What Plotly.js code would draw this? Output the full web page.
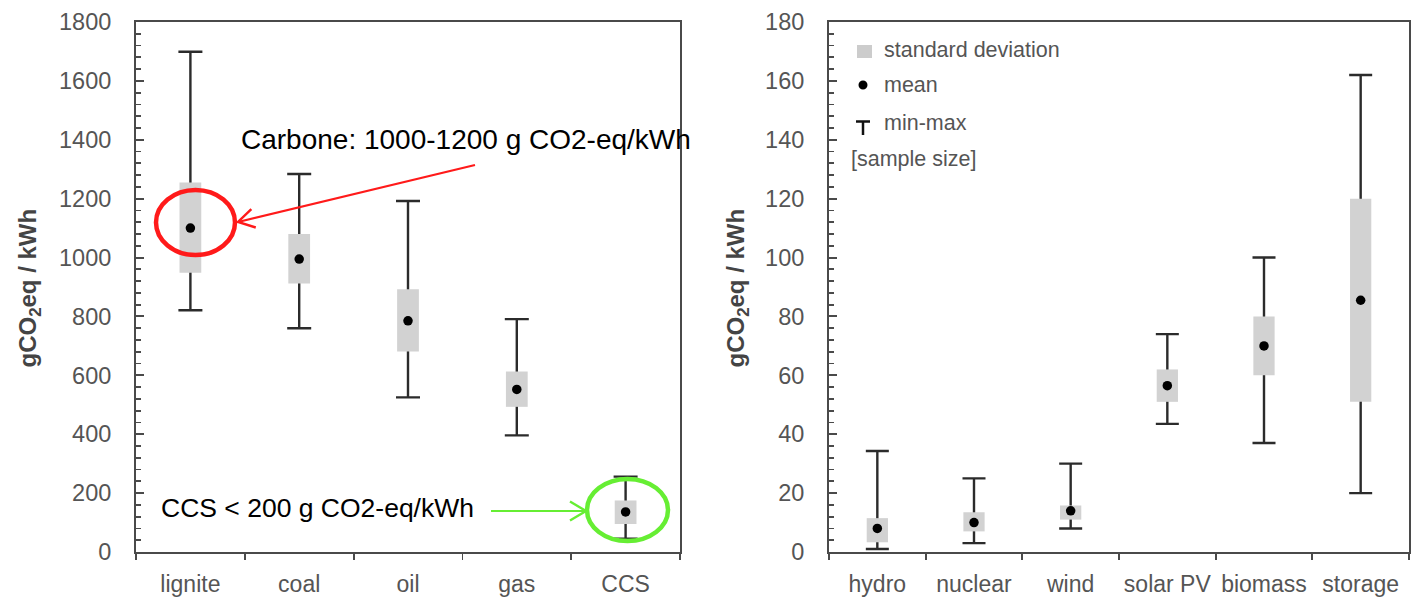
<!DOCTYPE html>
<html>
<head>
<meta charset="utf-8">
<script src="https://cdn.plot.ly/plotly-3.0.1.min.js"></script>
<style>
html,body{margin:0;padding:0;background:#fff;}
#chart{width:1414px;height:600px;}
</style>
</head>
<body>
<div id="chart"></div>
<script>
// ---- Data ----
const fossilCats = ['lignite', 'coal', 'oil', 'gas', 'CCS'];
const fossilMean = [1100, 995, 785, 552, 136];
const fossilSdLow = [948, 912, 681, 493, 95];
const fossilSdHigh = [1255, 1080, 892, 613, 175];
const fossilMin = [821, 760, 525, 396, 45];
const fossilMax = [1699, 1284, 1192, 791, 256];

const lowCats = ['hydro', 'nuclear', 'wind', 'solar PV', 'biomass', 'storage'];
const lowMean = [8, 10, 14, 56.5, 70, 85.5];
const lowSdLow = [3.3, 7, 11, 51, 60, 51];
const lowSdHigh = [11.5, 13.5, 15.8, 62, 80, 120];
const lowMin = [1, 3, 8, 43.5, 37, 20];
const lowMax = [34.3, 25, 30, 74, 100, 162];

// ---- Styling helpers ----
const W = 1414, H = 600;
const px = x => x / W;
const py = y => 1 - y / H;
const FONT = 'Liberation Sans, Arial, sans-serif';
const GREY_TXT = '#555555';
const BOX = '#d2d2d2';
const WHISK = '#2b2b2b';
const RED = '#ff1a1a';
const GREEN = '#66ee33';
const AXC = '#4a4a4a';

function diff(a, b) { return a.map((v, i) => v - b[i]); }

function group(cats, mean, lo, hi, mn, mx, xa, ya, bw, capw) {
  return [
    { // whiskers (min-max) carried by an invisible bar
      type: 'bar', x: cats, y: mean, xaxis: xa, yaxis: ya,
      width: bw, marker: { color: 'rgba(0,0,0,0)' },
      error_y: { type: 'data', symmetric: false,
        array: diff(mx, mean), arrayminus: diff(mean, mn),
        color: WHISK, thickness: 2.4, width: capw },
      hoverinfo: 'skip', showlegend: false
    },
    { // standard deviation box
      type: 'bar', x: cats, y: diff(hi, lo), base: lo, xaxis: xa, yaxis: ya,
      width: bw, marker: { color: BOX, line: { width: 0 } },
      name: 'standard deviation', showlegend: false
    },
    { // mean
      type: 'scatter', mode: 'markers', x: cats, y: mean, xaxis: xa, yaxis: ya,
      marker: { color: '#000', size: 9.5 },
      name: 'mean', showlegend: false
    }
  ];
}

const traces = [].concat(
  group(fossilCats, fossilMean, fossilSdLow, fossilSdHigh, fossilMin, fossilMax, 'x', 'y', 0.2, 12),
  group(lowCats, lowMean, lowSdLow, lowSdHigh, lowMin, lowMax, 'x2', 'y2', 0.22, 11.5)
);

// open chevron arrow drawn as shapes (annotation decoration)
function arrow(tipX, tipY, tailX, tailY, color) {
  const dx = tailX - tipX, dy = tailY - tipY;
  const L = Math.hypot(dx, dy);
  const ux = dx / L, uy = dy / L, nx = -uy, ny = ux;
  const back = 16, half = 9.5;
  const a1 = [tipX + back * ux + half * nx, tipY + back * uy + half * ny];
  const a2 = [tipX + back * ux - half * nx, tipY + back * uy - half * ny];
  const P = (p) => px(p[0]) + ',' + py(p[1]);
  return [
    { type: 'line', xref: 'paper', yref: 'paper', x0: px(tailX), y0: py(tailY), x1: px(tipX), y1: py(tipY),
      line: { color: color, width: 2.2 } },
    { type: 'path', xref: 'paper', yref: 'paper',
      path: 'M' + P(a1) + ' L' + P([tipX, tipY]) + ' L' + P(a2),
      line: { color: color, width: 2.4 } }
  ];
}

const xCommon = {
  type: 'category', showgrid: false, zeroline: false,
  showline: true, linecolor: AXC, linewidth: 2, mirror: true,
  ticks: 'outside', tickson: 'boundaries', ticklen: 6, tickwidth: 1.8, tickcolor: AXC,
  tickfont: { family: FONT, size: 23, color: GREY_TXT }, tickangle: 0,
  ticklabelstandoff: 10, fixedrange: true
};
const yCommon = {
  showgrid: false, zeroline: false,
  showline: true, linecolor: AXC, linewidth: 2, mirror: true,
  tickmode: 'linear', tick0: 0,
  ticks: 'inside', ticklen: 8, tickwidth: 2, tickcolor: AXC,
  tickfont: { family: FONT, size: 23.5, color: GREY_TXT },
  ticklabelstandoff: 18, fixedrange: true
};

const titleFont = { family: FONT, size: 24, color: '#444', weight: 'bold' };

const layout = {
  width: W, height: H,
  margin: { l: 0, r: 0, t: 0, b: 0 },
  paper_bgcolor: '#fff', plot_bgcolor: '#fff',
  barmode: 'overlay', showlegend: false,
  font: { family: FONT },
  xaxis: Object.assign({}, xCommon, { domain: [px(136), px(680)], range: [-0.5, 4.5], anchor: 'y' }),
  yaxis: Object.assign({}, yCommon, { domain: [py(552), py(22)], range: [0, 1800], dtick: 200, anchor: 'x',
    minor: { tickmode: 'linear', tick0: 0, dtick: 40, ticks: 'inside', ticklen: 5, tickwidth: 1.8, tickcolor: AXC, showgrid: false } }),
  xaxis2: Object.assign({}, xCommon, { domain: [px(829), px(1409)], range: [-0.5, 5.5], anchor: 'y2' }),
  yaxis2: Object.assign({}, yCommon, { domain: [py(552), py(22)], range: [0, 180], dtick: 20, anchor: 'x2',
    minor: { tickmode: 'linear', tick0: 0, dtick: 4, ticks: 'inside', ticklen: 5, tickwidth: 1.8, tickcolor: AXC, showgrid: false } }),
  shapes: [
    // red ellipse around lignite
    { type: 'circle', xref: 'paper', yref: 'paper', x0: px(156), x1: px(235), y0: py(255), y1: py(190),
      line: { color: RED, width: 4.5 } },
    // green ellipse around CCS
    { type: 'circle', xref: 'paper', yref: 'paper', x0: px(587), x1: px(668), y0: py(541), y1: py(479),
      line: { color: GREEN, width: 4.5 } },
    // legend keys (right panel)
    { type: 'rect', xref: 'paper', yref: 'paper', x0: px(857), x1: px(872), y0: py(58), y1: py(45),
      fillcolor: '#cccccc', line: { width: 0 } },
    { type: 'circle', xref: 'paper', yref: 'paper', x0: px(858.5), x1: px(867.5), y0: py(89.5), y1: py(80.5),
      fillcolor: '#000', line: { width: 0 } },
    { type: 'line', xref: 'paper', yref: 'paper', x0: px(856), x1: px(870), y0: py(121.5), y1: py(121.5),
      line: { color: '#111', width: 2.5 } },
    { type: 'line', xref: 'paper', yref: 'paper', x0: px(863), x1: px(863), y0: py(121.5), y1: py(135),
      line: { color: '#111', width: 2.5 } }
  ].concat(arrow(238, 222, 475, 165, RED), arrow(586, 511, 491, 511, GREEN)),
  annotations: [
    // axis titles
    { xref: 'paper', yref: 'paper', x: px(28.5), y: py(288), text: 'gCO<sub>2</sub>eq / kWh',
      textangle: -90, showarrow: false, font: titleFont, xanchor: 'center', yanchor: 'middle' },
    { xref: 'paper', yref: 'paper', x: px(736.5), y: py(288), text: 'gCO<sub>2</sub>eq / kWh',
      textangle: -90, showarrow: false, font: titleFont, xanchor: 'center', yanchor: 'middle' },
    // callout texts
    { xref: 'paper', yref: 'paper', x: px(239), y: py(139), text: 'Carbone: 1000-1200 g CO2-eq/kWh',
      showarrow: false, xanchor: 'left', yanchor: 'middle', font: { family: FONT, size: 28, color: '#000' } },
    { xref: 'paper', yref: 'paper', x: px(159), y: py(508), text: 'CCS &lt; 200 g CO2-eq/kWh',
      showarrow: false, xanchor: 'left', yanchor: 'middle', font: { family: FONT, size: 26.5, color: '#000' } },
    // legend texts
    { xref: 'paper', yref: 'paper', x: px(882), y: py(50), text: 'standard deviation', showarrow: false,
      xanchor: 'left', yanchor: 'middle', font: { family: FONT, size: 21.5, color: GREY_TXT } },
    { xref: 'paper', yref: 'paper', x: px(882), y: py(85), text: 'mean', showarrow: false,
      xanchor: 'left', yanchor: 'middle', font: { family: FONT, size: 21.5, color: GREY_TXT } },
    { xref: 'paper', yref: 'paper', x: px(882), y: py(123), text: 'min-max', showarrow: false,
      xanchor: 'left', yanchor: 'middle', font: { family: FONT, size: 21.5, color: GREY_TXT } },
    { xref: 'paper', yref: 'paper', x: px(849), y: py(159), text: '[sample size]', showarrow: false,
      xanchor: 'left', yanchor: 'middle', font: { family: FONT, size: 21.5, color: GREY_TXT } }
  ]
};

Plotly.newPlot('chart', traces, layout, { staticPlot: true, displayModeBar: false });
</script>
</body>
</html>
